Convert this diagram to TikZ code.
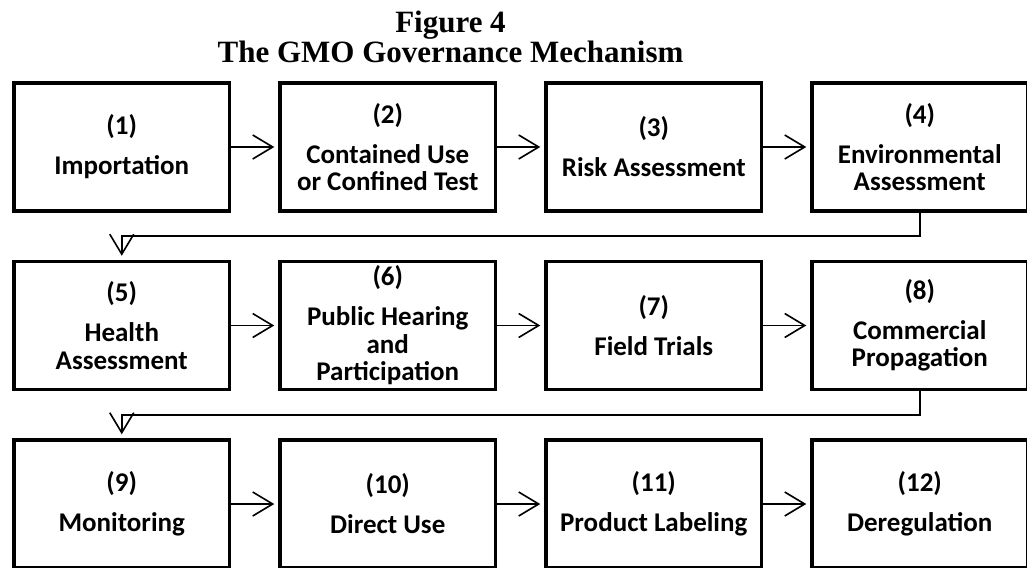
\documentclass[tikz,border=0pt]{standalone}
\usepackage{fontspec}
\newfontfamily\boxfont{Carlito}
\newfontfamily\titlefont{Liberation Serif}
\usetikzlibrary{arrows.meta,positioning}

\begin{document}
\begin{tikzpicture}[
  x=1pt,y=-1pt,
  >={Straight Barb[length=20pt,width=24pt]},
  node distance=47pt,
  stage/.style={draw,line width=3.5pt,minimum width=215.5pt,minimum height=128pt,
    align=center,inner sep=2pt,font=\boxfont\bfseries\fontsize{27}{27.5}\selectfont},
  heading/.style={anchor=base,font=\titlefont\bfseries\fontsize{31}{33}\selectfont},
  flow/.style={->,line width=1.6pt,shorten >=4pt}
]
  \path[use as bounding box,clip] (0,0) rectangle (1027,567);

  \node[heading] (fig) at (450.5,33) {Figure 4};
  \node[heading] (title) at (450.5,63) {The GMO Governance Mechanism};

  \node[stage] (imp) at (121.75,147) {(1)\\[12.5pt]Importation};
  \node[stage,right=of imp] (cont) {(2)\\[12.5pt]Contained Use\\or Confined Test};
  \node[stage,right=of cont] (risk) {(3)\\[12.5pt]Risk Assessment};
  \node[stage,right=of risk] (env) {(4)\\[12.5pt]Environmental\\Assessment};

  \node[stage,below=of imp] (health) {(5)\\[12.5pt]Health\\Assessment};
  \node[stage,right=of health] (public) {(6)\\[12.5pt]Public Hearing\\and\\Participation};
  \node[stage,right=of public] (field) {(7)\\[12.5pt]Field Trials};
  \node[stage,right=of field] (comm) {(8)\\[12.5pt]Commercial\\Propagation};

  \node[stage,below=of health] (mon) {(9)\\[12.5pt]Monitoring};
  \node[stage,right=of mon] (direct) {(10)\\[12.5pt]Direct Use};
  \node[stage,right=of direct] (labeling) {(11)\\[12.5pt]Product Labeling};
  \node[stage,right=of labeling] (dereg) {(12)\\[12.5pt]Deregulation};

  \draw[flow] (imp) -- (cont);
  \draw[flow] (cont) -- (risk);
  \draw[flow] (risk) -- (env);
  \draw[flow] (env.south) -- ++(0,23.5) -| (health.north);

  \draw[flow] (health) -- (public);
  \draw[flow] (public) -- (field);
  \draw[flow] (field) -- (comm);
  \draw[flow] (comm.south) -- ++(0,23.5) -| (mon.north);

  \draw[flow] (mon) -- (direct);
  \draw[flow] (direct) -- (labeling);
  \draw[flow] (labeling) -- (dereg);
\end{tikzpicture}
\end{document}
